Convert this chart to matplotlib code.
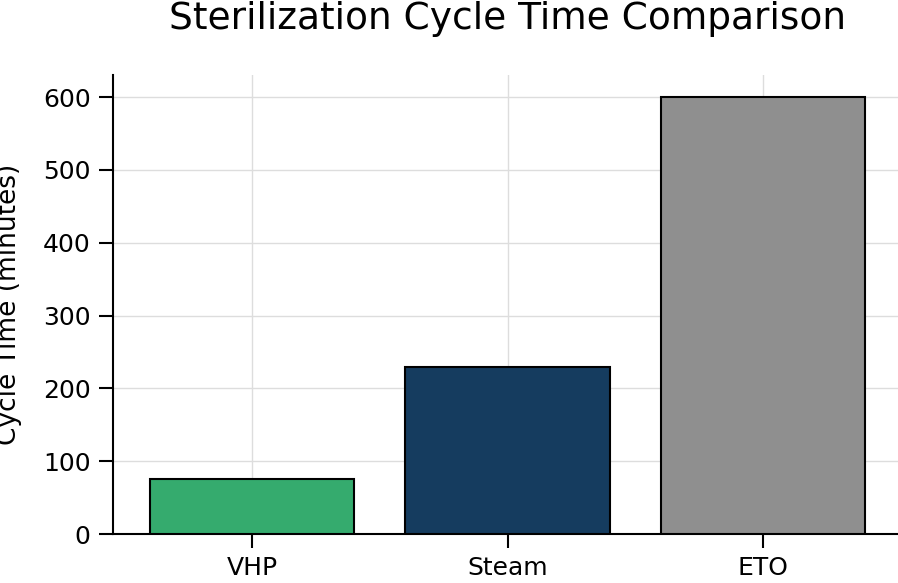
import matplotlib
matplotlib.use("Agg")
import matplotlib.pyplot as plt

methods = ["VHP", "Steam", "ETO"]
cycle_minutes = [75, 229, 600]
bar_colors = ["#35ab6e", "#153c5f", "#8f8f8f"]

fig = plt.figure(figsize=(8.98, 5.83), dpi=100)
ax = fig.add_axes([0.1258, 0.084, 0.8787, 0.787])

ax.bar(methods, cycle_minutes, width=0.8, color=bar_colors,
       edgecolor="black", linewidth=1.5, zorder=3)

ax.set_ylim(0, 630)
ax.set_xlim(-0.545, 2.545)
ax.set_yticks([0, 100, 200, 300, 400, 500, 600])
ax.grid(True, color="#dddddd", linewidth=1.0, zorder=0)
ax.set_axisbelow(True)

for side in ["top", "right"]:
    ax.spines[side].set_visible(False)
for side in ["left", "bottom"]:
    ax.spines[side].set_linewidth(1.5)

ax.tick_params(axis="both", labelsize=18, length=10, width=1.5, pad=6)
ax.set_ylabel("Cycle Time (minutes)", fontsize=19)
ax.yaxis.set_label_coords(-0.115, 0.5)
ax.set_title("Sterilization Cycle Time Comparison", fontsize=27, pad=33)

fig.savefig("out.png", dpi=100)
